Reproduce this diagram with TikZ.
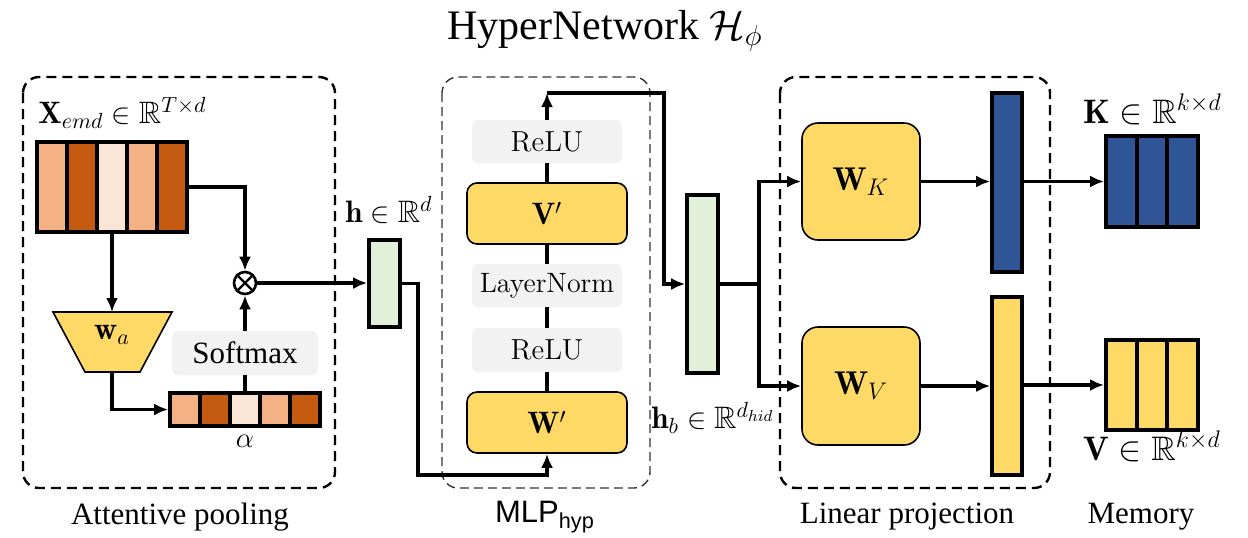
\documentclass[tikz,border=0pt]{standalone}
\usepackage{amssymb}
\usepackage{fontspec}
\newfontfamily\tms{Liberation Serif}
\newfontfamily\arl{Liberation Sans}
\usetikzlibrary{arrows.meta,fit,calc}

\definecolor{orL}{HTML}{F4B183}
\definecolor{orD}{HTML}{C55A11}
\definecolor{orVL}{HTML}{FBE5D6}
\definecolor{yel}{HTML}{FFD966}
\definecolor{grn}{HTML}{E2F0D9}
\definecolor{blu}{HTML}{2F5597}
\definecolor{gry}{HTML}{F2F2F2}

\newcommand\fsz[1]{\fontsize{#1}{1.2\dimexpr#1pt\relax}\selectfont}

\tikzset{
  ln/.style={line width=1.7pt},
  arr/.style={line width=1.7pt,-{Latex[length=7pt,width=6pt]}},
  vecbox/.style={draw,line width=1.8pt,inner sep=0pt},
  grybox/.style={fill=gry,rounded corners=3pt,inner sep=0pt,font=\fsz{14.5}},
  wbox/.style={draw,fill=yel,line width=0.8pt,inner sep=0pt,rounded corners=5pt,font=\fsz{15.5}},
  bigbox/.style={draw,fill=yel,line width=0.8pt,inner sep=0pt,rounded corners=8pt,font=\fsz{16}},
  thickdash/.style={line width=1.2pt,dash pattern=on 5pt off 3pt,rounded corners=8pt},
  thindash/.style={line width=0.7pt,black!80,dash pattern=on 4.5pt off 2.5pt,rounded corners=8pt},
  mlab/.style={font=\fsz{15.5},inner sep=0pt},
  caption/.style={font=\fsz{15.5}\tms,inner sep=0pt},
}

\begin{document}
\begin{tikzpicture}[x=0.5pt,y=-0.5pt]
\useasboundingbox (0,0) rectangle (1248,537);

% title
\node[font=\fsz{21}\tms,inner sep=0pt] (title) at (605,31) {HyperNetwork $\mathcal{H}_\phi$};

% ---------- attentive pooling ----------
\draw[thickdash] (23,77) rectangle (335,488);
\node[mlab,anchor=base west] (xlab) at (38,123) {$\mathbf{X}_{emd}\in\mathbb{R}^{T\times d}$};

% token embeddings
\fill[orL]  (37,142) rectangle (67,232);
\fill[orD]  (67,142) rectangle (97,232);
\fill[orVL] (97,142) rectangle (127,232);
\fill[orL]  (127,142) rectangle (157,232);
\fill[orD]  (157,142) rectangle (187,232);
\foreach \x in {67,97,127,157} \draw[line width=2pt] (\x,142) -- (\x,232);
\node[draw,line width=2pt,inner sep=0pt,fit={(37,142)(187,232)}] (X) {};

% attention projection w_a
\coordinate (waT) at (112,312);
\coordinate (waB) at (112,372);
\draw[fill=yel,line width=0.8pt] (53,312) -- (172,312) -- (140,372) -- (85,372) -- cycle;
\node[font=\fsz{16}] (wa) at (112,335) {$\mathbf{w}_a$};

% attention weights alpha
\fill[orL]  (170,393) rectangle (200,426);
\fill[orD]  (200,393) rectangle (230,426);
\fill[orVL] (230,393) rectangle (260,426);
\fill[orL]  (260,393) rectangle (290,426);
\fill[orD]  (290,393) rectangle (320,426);
\foreach \x in {200,230,260,290} \draw[line width=1.6pt] (\x,393) -- (\x,426);
\node[draw,line width=1.8pt,inner sep=0pt,fit={(170,393)(320,426)}] (alpha) {};
\node[mlab] (alab) at (245,441) {$\alpha$};

% softmax and product
\node[circle,draw,line width=1.3pt,minimum size=11pt,inner sep=0pt,fill=white] (mul) at (245,283) {};
\draw[line width=1.1pt] (mul.north west) -- (mul.south east) (mul.north east) -- (mul.south west);
\node[grybox,font=\fsz{15.5}\tms,fit={(172,331)(318,375)}] (smax) {};
\node[font=\fsz{15.5}\tms] at (smax.center) {Softmax};

\draw[arr] (X.south -| waT) -- (waT);
\draw[arr] (waB) |- (alpha.west);
\draw[ln] (alpha.north) -- (smax.south);
\draw[arr] (smax.north) -- (mul.south);
\draw[arr] (X.east) -| (mul.north);

% pooled vector h
\node[vecbox,fill=grn,fit={(369,240)(400,327)}] (h) {};
\node[mlab,anchor=base west] (hlab) at (345,222) {$\mathbf{h}\in\mathbb{R}^{d}$};
\draw[arr] (mul.east) -- (mul.east -| h.west);

% ---------- MLP_hyp ----------
\draw[thindash] (442,77) rectangle (650,488);
\node[wbox,fit={(467,392)(627,453)}] (wp) {};
\node[font=\fsz{15.5}] at (wp.center) {$\mathbf{W}'$};
\node[grybox,fit={(472,328)(622,372)}] (relu1) {};
\node[font=\fsz{14.5}] at (relu1.center) {ReLU};
\node[grybox,fit={(472,264)(622,307)}] (lnorm) {};
\node[font=\fsz{14}] at (lnorm.center) {LayerNorm};
\node[wbox,fit={(467,183)(627,244)}] (vp) {};
\node[font=\fsz{15.5}] at (vp.center) {$\mathbf{V}'$};
\node[grybox,fit={(472,120)(622,163)}] (relu2) {};
\node[font=\fsz{14.5}] at (relu2.center) {ReLU};

\coordinate (hdown) at (418,475);
\draw[arr] (h.east) -| (hdown) -| (wp.south);
\draw[ln] (wp.north) -- (relu1.south);
\draw[ln] (relu1.north) -- (lnorm.south);
\draw[ln] (lnorm.north) -- (vp.south);
\draw[ln] (vp.north) -- (relu2.south);
\coordinate (top) at (547,93);
\coordinate (topR) at (664,93);
\draw[arr] (relu2.north) -- (top);

% hidden vector h_b
\node[vecbox,fill=grn,fit={(687,195)(718,373)}] (hb) {};
\node[mlab,anchor=base west] (hblab) at (651,428) {$\mathbf{h}_b\in\mathbb{R}^{d_{hid}}$};
\draw[arr] (top) -- (topR) |- (hb.west);

% ---------- linear projection ----------
\draw[thickdash] (780,77) rectangle (1050,488);
\node[bigbox,fit={(802,123)(920,240)}] (wk) {};
\node[font=\fsz{16.5}] at (wk.center) {$\mathbf{W}_K$};
\node[bigbox,fit={(802,327)(920,445)}] (wv) {};
\node[font=\fsz{16.5}] at (wv.center) {$\mathbf{W}_V$};
\node[vecbox,fill=blu,fit={(992,93)(1022,272)}] (kbar) {};
\node[vecbox,fill=yel,fit={(992,297)(1022,475)}] (vbar) {};

\coordinate (split) at (759,284);
\draw[ln] (hb.east) -- (split);
\draw[arr] (split) |- (wk.west);
\draw[arr] (split) |- (wv.west);
\draw[arr] (wk.east) -- (wk.east -| kbar.west);
\draw[arr] (wv.east) -- (wv.east -| vbar.west);

% ---------- memory ----------
\fill[blu] (1106,136) rectangle (1198,227);
\foreach \x in {1137,1167} \draw[line width=2pt] (\x,136) -- (\x,227);
\node[draw,line width=2pt,inner sep=0pt,fit={(1106,136)(1198,227)}] (K) {};
\fill[yel] (1106,340) rectangle (1198,430);
\foreach \x in {1137,1167} \draw[line width=2pt] (\x,340) -- (\x,430);
\node[draw,line width=2pt,inner sep=0pt,fit={(1106,340)(1198,430)}] (V) {};
\node[font=\fsz{17},inner sep=0pt,anchor=base west] (klab) at (1083,123) {$\mathbf{K}\in\mathbb{R}^{k\times d}$};
\node[font=\fsz{17},inner sep=0pt,anchor=base west] (vlab) at (1083,460) {$\mathbf{V}\in\mathbb{R}^{k\times d}$};
\draw[arr] (kbar.east |- K.west) -- (K.west);
\draw[arr] (vbar.east |- V.west) -- (V.west);

% captions
\node[caption] (c1) at (180,517) {Attentive pooling};
\node[font=\fsz{15.5}\arl,inner sep=0pt] (c2) at (545,517) {MLP\textsubscript{hyp}};
\node[caption] (c3) at (907,517) {Linear projection};
\node[caption] (c4) at (1141,517) {Memory};
\end{tikzpicture}
\end{document}
